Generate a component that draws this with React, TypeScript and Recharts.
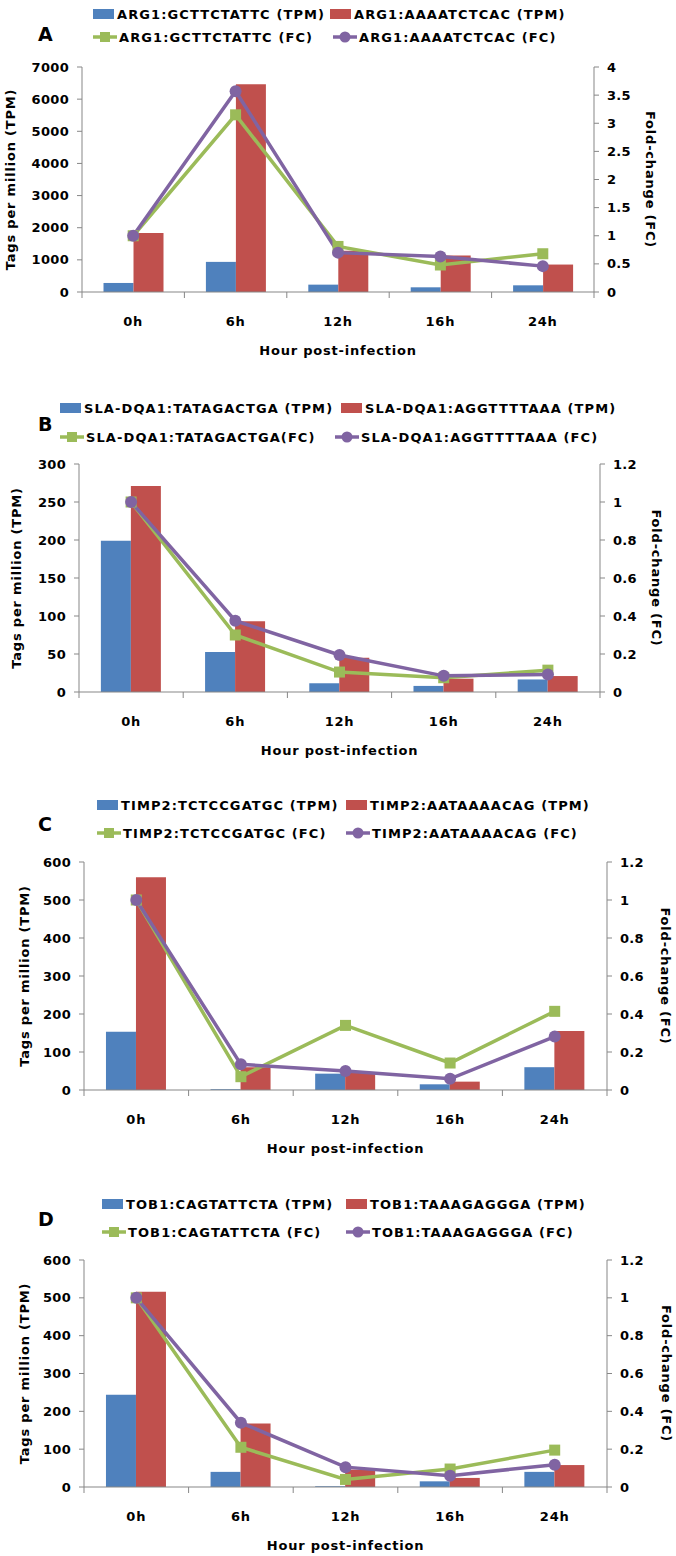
import React from 'react';
import { ComposedChart, Bar, Line, XAxis, YAxis, Label } from 'recharts';

const HOURS = ['0h', '6h', '12h', '16h', '24h'];

// A - ARG1
const ARG1_NAMES = ['ARG1:GCTTCTATTC (TPM)', 'ARG1:AAAATCTCAC (TPM)', 'ARG1:GCTTCTATTC (FC)', 'ARG1:AAAATCTCAC (FC)'];
const ARG1_TPM_1 = [281, 937, 229, 146, 208];
const ARG1_TPM_2 = [1833, 6460, 1280, 1135, 854];
const ARG1_FC_1 = [1.0, 3.15, 0.81, 0.48, 0.68];
const ARG1_FC_2 = [1.0, 3.57, 0.7, 0.63, 0.46];
const ARG1_LEFT_TICKS = [0, 1000, 2000, 3000, 4000, 5000, 6000, 7000];
const ARG1_RIGHT_TICKS = [0, 0.5, 1, 1.5, 2, 2.5, 3, 3.5, 4];

// B - SLA-DQA1
const DQA1_NAMES = ['SLA-DQA1:TATAGACTGA (TPM)', 'SLA-DQA1:AGGTTTTAAA (TPM)', 'SLA-DQA1:TATAGACTGA(FC)', 'SLA-DQA1:AGGTTTTAAA (FC)'];
const DQA1_TPM_1 = [199, 52.5, 11.5, 8, 16.5];
const DQA1_TPM_2 = [271, 93, 45, 17.5, 21];
const DQA1_FC_1 = [1.0, 0.3, 0.105, 0.075, 0.115];
const DQA1_FC_2 = [1.0, 0.375, 0.195, 0.085, 0.092];
const DQA1_LEFT_TICKS = [0, 50, 100, 150, 200, 250, 300];
const FC_TICKS_12 = [0, 0.2, 0.4, 0.6, 0.8, 1, 1.2];

// C - TIMP2
const TIMP2_NAMES = ['TIMP2:TCTCCGATGC (TPM)', 'TIMP2:AATAAAACAG (TPM)', 'TIMP2:TCTCCGATGC (FC)', 'TIMP2:AATAAAACAG (FC)'];
const TIMP2_TPM_1 = [153, 2, 43, 15, 60];
const TIMP2_TPM_2 = [560, 60, 45, 22, 155];
const TIMP2_FC_1 = [1.0, 0.07, 0.34, 0.142, 0.414];
const TIMP2_FC_2 = [1.0, 0.135, 0.1, 0.059, 0.281];
const TPM_TICKS_600 = [0, 100, 200, 300, 400, 500, 600];

// D - TOB1
const TOB1_NAMES = ['TOB1:CAGTATTCTA (TPM)', 'TOB1:TAAAGAGGGA (TPM)', 'TOB1:CAGTATTCTA (FC)', 'TOB1:TAAAGAGGGA (FC)'];
const TOB1_TPM_1 = [244, 40, 2, 15, 40];
const TOB1_TPM_2 = [516, 168, 46, 24, 58];
const TOB1_FC_1 = [1.0, 0.21, 0.04, 0.095, 0.195];
const TOB1_FC_2 = [1.0, 0.34, 0.105, 0.06, 0.118];

const BLUE = '#4F81BD';
const RED = '#C0504D';
const GREEN = '#9BBB59';
const PURPLE = '#8064A2';
const AXIS = '#878787';
const FONT = '"DejaVu Sans", "Liberation Sans", Arial, sans-serif';
const W = 676;

const textStyle = { fontSize: 13, fontWeight: 700, letterSpacing: 0.8, fill: '#000', fontFamily: FONT };

const panels = [
  {
    letter: 'A', names: ARG1_NAMES, tpm1: ARG1_TPM_1, tpm2: ARG1_TPM_2, fc1: ARG1_FC_1, fc2: ARG1_FC_2,
    leftTicks: ARG1_LEFT_TICKS, rightTicks: ARG1_RIGHT_TICKS,
    height: 390, left: 82, right: 594, top: 67, bottom: 292,
    rows: [14, 37], cols: [[93, 330], [93, 333]], letterY: 34, yTitleX: 10, rTitleX: 650,
  },
  {
    letter: 'B', names: DQA1_NAMES, tpm1: DQA1_TPM_1, tpm2: DQA1_TPM_2, fc1: DQA1_FC_1, fc2: DQA1_FC_2,
    leftTicks: DQA1_LEFT_TICKS, rightTicks: FC_TICKS_12,
    height: 390, left: 79, right: 600, top: 74, bottom: 302,
    rows: [18, 47], cols: [[60, 341], [60, 335]], letterY: 34, yTitleX: 16, rTitleX: 656,
  },
  {
    letter: 'C', names: TIMP2_NAMES, tpm1: TIMP2_TPM_1, tpm2: TIMP2_TPM_2, fc1: TIMP2_FC_1, fc2: TIMP2_FC_2,
    leftTicks: TPM_TICKS_600, rightTicks: FC_TICKS_12,
    height: 390, left: 84, right: 607, top: 82, bottom: 310,
    rows: [25, 53], cols: [[97, 346], [97, 346]], letterY: 44, yTitleX: 24, rTitleX: 665,
  },
  {
    letter: 'D', names: TOB1_NAMES, tpm1: TOB1_TPM_1, tpm2: TOB1_TPM_2, fc1: TOB1_FC_1, fc2: TOB1_FC_2,
    leftTicks: TPM_TICKS_600, rightTicks: FC_TICKS_12,
    height: 386, left: 84, right: 607, top: 90, bottom: 317,
    rows: [34, 62], cols: [[102, 346], [102, 346]], letterY: 49, yTitleX: 24, rTitleX: 666,
  },
];

function SquareDot(props: any) {
  const { cx, cy } = props;
  if (cx == null || cy == null) return null;
  return <rect x={cx - 5.5} y={cy - 5.5} width={11} height={11} fill={GREEN} />;
}

function CircleDot(props: any) {
  const { cx, cy } = props;
  if (cx == null || cy == null) return null;
  return <circle cx={cx} cy={cy} r={6} fill={PURPLE} />;
}

function HourTick(props: any) {
  const { x, y, payload, half } = props;
  const h = payload.offset || half;
  const last = payload.value === HOURS[HOURS.length - 1];
  return (
    <g>
      <line x1={x - h} x2={x - h} y1={y} y2={y + 6} stroke={AXIS} />
      {last ? <line x1={x + h} x2={x + h} y1={y} y2={y + 6} stroke={AXIS} /> : null}
      <text x={x} y={y + 29} textAnchor="middle" dominantBaseline="central" style={textStyle}>
        {payload.value}
      </text>
    </g>
  );
}

function LegendKey({ kind }: { kind: number }) {
  if (kind === 0 || kind === 1) {
    return (
      <svg width={22} height={12} style={{ display: 'block' }}>
        <rect x={0} y={1} width={21} height={10} fill={kind === 0 ? BLUE : RED} />
      </svg>
    );
  }
  const c = kind === 2 ? GREEN : PURPLE;
  return (
    <svg width={24} height={12} style={{ display: 'block' }}>
      <line x1={0} x2={24} y1={6} y2={6} stroke={c} strokeWidth={3.5} />
      {kind === 2 ? <rect x={7} y={1} width={10} height={10} fill={c} /> : <circle cx={12} cy={6} r={5.5} fill={c} />}
    </svg>
  );
}

function Panel({ cfg }: { cfg: any }) {
  const data = HOURS.map((h, i) => ({
    hour: h,
    tpm1: cfg.tpm1[i],
    tpm2: cfg.tpm2[i],
    fc1: cfg.fc1[i],
    fc2: cfg.fc2[i],
  }));
  const leftMax = cfg.leftTicks[cfg.leftTicks.length - 1];
  const rightMax = cfg.rightTicks[cfg.rightTicks.length - 1];
  const half = (cfg.right - cfg.left) / HOURS.length / 2;
  const tickStyle = { fill: '#000', fontSize: 13, fontWeight: 700, letterSpacing: 0.3, fontFamily: FONT };

  return (
    <div style={{ position: 'relative', width: W, height: cfg.height, fontFamily: FONT, fontWeight: 700 }}>
      <ComposedChart
        width={W}
        height={cfg.height}
        data={data}
        margin={{ top: cfg.top, right: 0, bottom: 0, left: 0 }}
        barGap={0}
        barCategoryGap="21%"
      >
        <XAxis
          dataKey="hour"
          height={cfg.height - cfg.bottom}
          stroke={AXIS}
          tickLine={false}
          tickSize={0}
          tickMargin={0}
          interval={0}
          tick={(p: any) => <HourTick {...p} half={half} />}
        >
          <Label
            content={(p: any) => {
              const v = p.viewBox;
              return (
                <text x={v.x + v.width / 2} y={v.y + 58} textAnchor="middle" dominantBaseline="central" style={textStyle}>
                  Hour post-infection
                </text>
              );
            }}
          />
        </XAxis>
        <YAxis
          yAxisId="left"
          width={cfg.left}
          domain={[0, leftMax]}
          ticks={cfg.leftTicks}
          interval={0}
          stroke={AXIS}
          tickSize={5}
          tickMargin={8}
          tick={tickStyle}
        >
          <Label
            content={(p: any) => {
              const v = p.viewBox;
              const cy = v.y + v.height / 2;
              return (
                <text
                  x={cfg.yTitleX}
                  y={cy}
                  transform={`rotate(-90, ${cfg.yTitleX}, ${cy})`}
                  textAnchor="middle"
                  dominantBaseline="central"
                  style={textStyle}
                >
                  Tags per million (TPM)
                </text>
              );
            }}
          />
        </YAxis>
        <YAxis
          yAxisId="right"
          orientation="right"
          width={W - cfg.right}
          domain={[0, rightMax]}
          ticks={cfg.rightTicks}
          interval={0}
          stroke={AXIS}
          tickSize={5}
          tickMargin={8}
          tick={tickStyle}
        >
          <Label
            content={(p: any) => {
              const v = p.viewBox;
              const cy = v.y + v.height / 2;
              return (
                <text
                  x={cfg.rTitleX}
                  y={cy}
                  transform={`rotate(90, ${cfg.rTitleX}, ${cy})`}
                  textAnchor="middle"
                  dominantBaseline="central"
                  style={textStyle}
                >
                  Fold-change (FC)
                </text>
              );
            }}
          />
        </YAxis>
        <Bar yAxisId="left" dataKey="tpm1" fill={BLUE} isAnimationActive={false} />
        <Bar yAxisId="left" dataKey="tpm2" fill={RED} isAnimationActive={false} />
        <Line
          yAxisId="right"
          type="linear"
          dataKey="fc1"
          stroke={GREEN}
          strokeWidth={3.5}
          dot={<SquareDot />}
          activeDot={false}
          isAnimationActive={false}
        />
        <Line
          yAxisId="right"
          type="linear"
          dataKey="fc2"
          stroke={PURPLE}
          strokeWidth={3.5}
          dot={<CircleDot />}
          activeDot={false}
          isAnimationActive={false}
        />
      </ComposedChart>

      <div style={{ position: 'absolute', left: 38, top: cfg.letterY - 12, fontSize: 19, lineHeight: '24px', color: '#000' }}>
        {cfg.letter}
      </div>
      {cfg.names.map((name: string, i: number) => {
        const row = i < 2 ? 0 : 1;
        const col = i % 2;
        return (
          <div
            key={name}
            style={{
              position: 'absolute',
              left: cfg.cols[row][col],
              top: cfg.rows[row] - 9,
              height: 18,
              display: 'flex',
              alignItems: 'center',
              fontSize: 13,
              letterSpacing: 1.1,
              whiteSpace: 'nowrap',
              color: '#000',
            }}
          >
            <LegendKey kind={i} />
            <span style={{ marginLeft: 2 }}>{name}</span>
          </div>
        );
      })}
    </div>
  );
}

export default function App() {
  return (
    <div style={{ width: W, background: '#fff' }}>
      <style>{'body{margin:0;background:#fff}'}</style>
      {panels.map((cfg) => (
        <Panel key={cfg.letter} cfg={cfg} />
      ))}
    </div>
  );
}
